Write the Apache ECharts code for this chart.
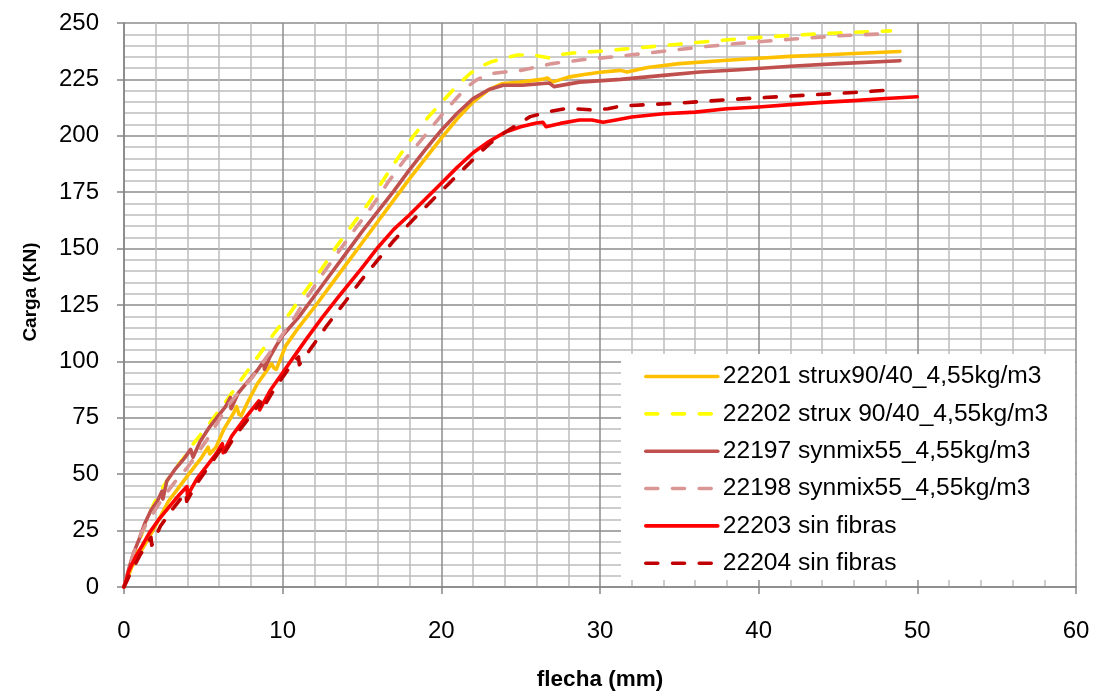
<!DOCTYPE html>
<html>
<head>
<meta charset="utf-8">
<script src="https://cdn.jsdelivr.net/npm/echarts@6/dist/echarts.min.js"></script>
<style>
html,body{margin:0;padding:0;background:#fff;}
#chart{width:1096px;height:692px;}
</style>
</head>
<body>
<div id="chart"></div>
<script>
// ---- data (flecha mm, carga kN) ----
const seriesNames = [
  '22201 strux90/40_4,55kg/m3',
  '22202 strux 90/40_4,55kg/m3',
  '22197 synmix55_4,55kg/m3',
  '22198 synmix55_4,55kg/m3',
  '22203 sin fibras',
  '22204 sin fibras'
];
const s22201 = [[0,0],[0.5,9],[1,15],[1.5,21],[2.2,30],[2.8,38],[3.6,45.5],[4.3,52],[4.9,57.5],[5.3,62],[5.4,59],[5.5,58.5],[5.8,62],[6.3,70],[6.9,77],[7.1,80],[7.25,76.5],[7.4,76],[7.8,82],[8.4,90],[9.0,96],[9.3,99],[9.45,97],[9.6,96.5],[9.8,100],[10.2,107],[11,115],[12,124],[13,133.5],[14,143],[15,152.5],[16,162],[17,171.5],[18,181],[19,190],[20,199],[21,207.5],[22,215],[23,220.5],[23.8,223],[25,223.8],[26.3,225],[26.7,225.6],[27,223.8],[28,226],[29,227.2],[30,228.2],[31.3,229],[31.7,228.3],[33,230.3],[35,232],[38,233.5],[40,234.4],[42,235.2],[44,235.8],[46,236.5],[48.9,237.4]];
const s22202 = [[0,0],[0.3,7],[0.7,15],[1.2,25],[1.7,34],[2.1,40],[2.7,47],[3.3,53],[3.9,58.5],[4.4,63.8],[5.4,72.6],[6.5,83],[7.6,94],[8.6,103.7],[9.5,112.8],[10.5,121.8],[11.4,130.8],[12.5,141.4],[13.4,151],[14.4,160.5],[15.4,170],[16.3,180],[17.2,189.5],[18.2,199.5],[19.2,208.5],[20.3,217],[21.1,223],[21.8,227.5],[22.4,230.5],[23.1,232.7],[24,234.5],[24.8,235.8],[25.8,235.8],[26.8,234.5],[27.5,236],[28.3,236.7],[30,237.5],[31.3,238.3],[34,240],[36.3,241.5],[38.8,243],[42,244.5],[45,245.6],[48.3,246.5]];
const s22197 = [[0,0],[0.3,8],[0.6,15],[1,22],[1.3,28],[1.7,34],[2.1,38],[2.4,42.5],[2.45,39],[2.7,47],[3.2,52],[3.8,57],[4.2,61],[4.35,57.5],[4.8,64.5],[5.4,71],[5.9,75.5],[6.4,80],[6.7,84],[6.75,79],[7.2,86],[7.8,91],[8.4,96],[8.8,100],[8.85,96.5],[9.2,102],[9.6,107],[10,111.5],[11,119.5],[12,129],[13,138.5],[14,148],[15,157.5],[16,166.5],[17,175.5],[18,185],[19,194],[20,202.5],[21,210],[22,216.5],[23,220.5],[23.9,222.4],[25.1,222.4],[26.8,223.4],[27.1,221.8],[28.7,223.8],[31.3,225],[34,226.8],[36.3,228.3],[38.8,229.3],[42,230.8],[45,232],[48.9,233.3]];
const s22198 = [[0,0],[0.3,8],[0.6,15],[0.9,21],[1.4,28],[1.95,34],[2.5,40],[3.2,46.5],[4,53],[4.6,59],[5.2,65],[5.9,73],[6.5,80],[7.2,86],[8.1,93],[8.9,101],[9.8,110],[10.8,120],[11.5,128],[12.5,138.5],[13.6,149.4],[14.6,159],[15.6,168.4],[16.6,179],[17.7,189.5],[18.9,199.5],[20,209],[21,217],[21.6,221.5],[22.2,224.7],[23,227.5],[24,228.3],[25,229],[27,232],[29,233.8],[31.3,235.3],[34,237.5],[36.3,239.3],[38.8,241],[42,242.8],[45,244.3],[47.6,245.1]];
const s22203 = [[0,0],[0.3,7],[0.7,13],[1.2,19],[1.6,24],[2.2,30],[2.9,36],[3.5,41],[3.97,44.5],[4.0,40.5],[4.6,48],[5.2,53.5],[5.8,59],[6.2,63.5],[6.25,59.5],[6.8,67],[7.6,74.5],[8.5,82.5],[8.55,78.5],[9.2,87],[10,95],[10.6,101],[11.5,110],[12.5,119.5],[13.5,128.5],[15,141.5],[16,150.5],[17,158.5],[18,165],[19,172],[20,179],[21,186],[22,192.5],[23,197.5],[24,201.5],[25,204],[26,205.7],[26.4,206],[26.6,204],[27.5,205.5],[28.7,207],[29.5,207],[30.2,206],[31,207],[32,208.3],[34,209.8],[36,210.5],[38,212],[40,212.8],[42,213.8],[44,214.8],[46,215.6],[48,216.5],[50,217.3]];
const s22204 = [[0,0],[0.4,6],[1,14],[1.7,22],[1.75,18.5],[2.3,27],[3,34],[3.9,42],[3.95,38],[4.6,46],[5.3,53],[6.2,62],[6.25,58.5],[7,67],[8,76],[8.6,82],[8.65,78],[9.5,88],[10.5,98],[11,102],[11.05,98.5],[11.8,106],[12.8,116],[14,127],[14.9,135.5],[16,145],[17,153.5],[18.2,162.7],[19.5,172],[20.5,179],[21.5,186],[22.5,193],[23.1,196.8],[24,201.5],[24.8,205],[25.6,208.5],[26,209.2],[27,211],[28,212.2],[29.6,211.4],[30.5,212],[31.3,213.2],[33,213.8],[35,214.5],[38,216],[40,216.8],[42,217.6],[44,218.4],[46,219.2],[48.3,220.3]];
const seriesData = [s22201, s22202, s22197, s22198, s22203, s22204];
const seriesColors = ['#FFC000', '#FFFF00', '#C0504D', '#D99694', '#FF0000', '#C00000'];
const seriesDashed = [false, true, false, true, false, true];

const FONT = 'Liberation Sans';
const chart = echarts.init(document.getElementById('chart'), null, {renderer: 'canvas'});

const series = seriesData.map((d, i) => ({
  name: seriesNames[i],
  type: 'line',
  data: d,
  symbol: 'none',
  smooth: false,
  animation: false,
  lineStyle: {
    color: seriesColors[i],
    width: 3.6,
    type: seriesDashed[i] ? [12, 14.7] : 'solid',
    cap: 'round',
    join: 'round'
  },
  itemStyle: {color: seriesColors[i]}
}));

chart.setOption({
  animation: false,
  backgroundColor: '#ffffff',
  grid: {left: 124, right: 20, top: 23, bottom: 105, containLabel: false, outerBoundsMode: 'none'},
  xAxis: {
    type: 'value', min: 0, max: 60, interval: 10,
    name: 'flecha (mm)', nameLocation: 'middle', nameGap: 81,
    nameTextStyle: {fontFamily: FONT, fontSize: 22.5, fontWeight: 'bold', color: '#000'},
    axisLine: {show: true, onZero: false, lineStyle: {color: '#868686', width: 1.5}},
    axisTick: {show: true, length: 7, inside: false, lineStyle: {color: '#868686', width: 1.5}},
    axisLabel: {margin: 32, fontFamily: FONT, fontSize: 24, color: '#000'},
    splitLine: {show: true, lineStyle: {color: '#8c8c8c', width: 1.5}},
    minorTick: {show: false, splitNumber: 5},
    minorSplitLine: {show: true, lineStyle: {color: '#bdbdbd', width: 1.5}}
  },
  yAxis: {
    type: 'value', min: 0, max: 250, interval: 25,
    axisLine: {show: true, lineStyle: {color: '#868686', width: 1.5}},
    axisTick: {show: true, length: 7, inside: false, lineStyle: {color: '#868686', width: 1.5}},
    axisLabel: {margin: 25, fontFamily: FONT, fontSize: 24, color: '#000'},
    splitLine: {show: true, lineStyle: {color: '#8c8c8c', width: 1.5}},
    minorTick: {show: false, splitNumber: 5},
    minorSplitLine: {show: true, lineStyle: {color: '#bdbdbd', width: 1.5}}
  },
  graphic: {
    elements: [{
      type: 'rect', z: 3, zlevel: 0,
      shape: {x: 621, y: 354, width: 454, height: 226},
      style: {fill: '#ffffff'}
    }, {
      type: 'text', x: 31, y: 292, rotation: Math.PI / 2, z: 5,
      style: {
        text: 'Carga (KN)', fill: '#000',
        font: 'bold 19px "Liberation Sans"',
        textAlign: 'center', textVerticalAlign: 'middle'
      }
    }]
  },
  legend: {
    show: true, orient: 'vertical', left: 644, top: 364, padding: 0,
    itemWidth: 72, itemHeight: 14, itemGap: 12.35,
    itemStyle: {color: 'rgba(0,0,0,0)', borderWidth: 0, opacity: 0},
    lineStyle: {width: 3.6},
    textStyle: {fontFamily: FONT, fontSize: 24.6, lineHeight: 24, color: '#000'},
    data: seriesNames,
    z: 5
  },
  series: series
});
</script>
</body>
</html>
